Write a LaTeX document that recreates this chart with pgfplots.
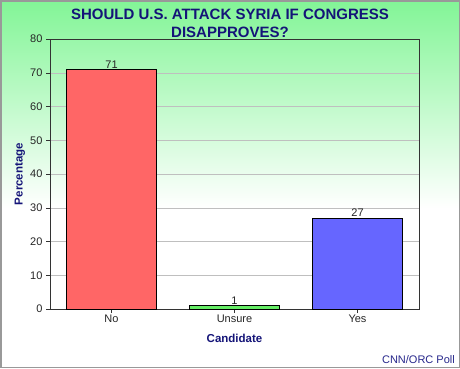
\documentclass[border=0pt]{standalone}
\usepackage{fontspec}
\setmainfont{Liberation Sans}
\usepackage{pgfplots}
\pgfplotsset{compat=1.18}
\definecolor{navy}{RGB}{20,20,120}
\definecolor{bggreen}{RGB}{130,245,150}
\definecolor{barred}{RGB}{255,102,102}
\definecolor{bargreen}{RGB}{102,238,102}
\definecolor{barblue}{RGB}{102,102,255}
\begin{document}
\begin{tikzpicture}[x=1pt,y=1pt]
\fill[white] (0,0) rectangle (460,368);
\shade[top color=bggreen, bottom color=white] (0,368) rectangle (460,160);
\draw[gray!80, line width=1.5pt] (0.75,0.75) rectangle (459.25,367.25);
\begin{axis}[at={(50pt,59pt)}, anchor=south west, scale only axis,
  width=369pt, height=270pt,
  xmin=-0.5, xmax=2.5, ymin=0, ymax=80,
  ytick={0,10,...,80}, xtick={0,1,2}, xticklabels={No,Unsure,Yes},
  ytick pos=left, xtick pos=lower,
  ymajorgrids, grid style={black!25},
  axis line style={black!80}, tick style={black!80},
  tick align=outside, major tick length=4pt,
  ybar, bar width=90pt, bar shift=0pt,
  nodes near coords,
  nodes near coords style={font=\fontsize{11}{12}\selectfont, text=black!85, inner sep=1pt},
  tick label style={font=\fontsize{11}{12}\selectfont, text=black!85},
  xticklabel style={inner sep=2pt},
  /pgf/number format/assume math mode=true,
  xlabel={Candidate}, ylabel={Percentage},
  every axis y label/.style={at={(axis description cs:-0.0813,0.5)}, rotate=90, anchor=center,
    font=\bfseries\fontsize{11.5}{12}\selectfont, text=navy},
  every axis x label/.style={at={(axis description cs:0.5,-0.107)}, anchor=center,
    font=\bfseries\fontsize{11.5}{12}\selectfont, text=navy},
]
\addplot[fill=barred, draw=black] coordinates {(0,71)};
\addplot[fill=bargreen, draw=black] coordinates {(1,1)};
\addplot[fill=barblue, draw=black] coordinates {(2,27)};
\end{axis}
\node[align=center, font=\bfseries\fontsize{15}{18}\selectfont, text=navy] at (230,345) {SHOULD U.S. ATTACK SYRIA IF CONGRESS\\DISAPPROVES?};
\node[anchor=base east, font=\fontsize{11}{12}\selectfont, text={rgb,255:red,40;green,40;blue,140}, inner sep=0pt] at (455,5) {CNN/ORC Poll};
\end{tikzpicture}
\end{document}
